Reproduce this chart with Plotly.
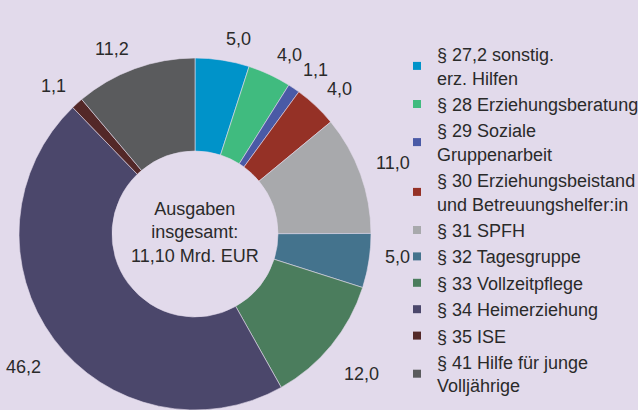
import math
import plotly.graph_objects as go

# ---- data ----
categories = [
    "§ 27,2 sonstig.<br>erz. Hilfen",
    "§ 28 Erziehungsberatung",
    "§ 29 Soziale<br>Gruppenarbeit",
    "§ 30 Erziehungsbeistand<br>und Betreuungshelfer:in",
    "§ 31 SPFH",
    "§ 32 Tagesgruppe",
    "§ 33 Vollzeitpflege",
    "§ 34 Heimerziehung",
    "§ 35 ISE",
    "§ 41 Hilfe für junge<br>Volljährige",
]
values = [5.0, 4.0, 1.1, 4.0, 11.0, 5.0, 12.0, 46.2, 1.1, 11.2]
colors = ["#0093c9", "#40bb7f", "#4a5aa6", "#953126", "#a8a9ac",
          "#44738d", "#4b7d5d", "#4b476b", "#532828", "#5a5b5d"]
center_text = "Ausgaben<br>insgesamt:<br>11,10 Mrd. EUR"

# ---- layout constants ----
W, H = 638, 410
BG = "#e2daeb"
TXT = "#2a2a2a"
FONT = "Liberation Sans, Arial, sans-serif"
FS = 18
cx, cy, R = 195, 234, 176          # pixel centre / radius of donut
hole = 83 / R
LABEL_R = 191                      # radius where the label's nearest corner sits

fig = go.Figure()
fig.add_trace(go.Pie(
    labels=categories,
    values=values,
    marker=dict(colors=colors, line=dict(color=BG, width=0.6)),
    hole=hole,
    sort=False,
    direction="clockwise",
    textinfo="none",
    hoverinfo="skip",
    showlegend=False,
    domain=dict(x=[(cx - R) / W, (cx + R) / W], y=[0, 1 - (cy - R) / H]),
))

# legend via dummy square markers
for name, col in zip(categories, colors):
    fig.add_trace(go.Scatter(
        x=[None], y=[None], mode="markers", name=name,
        marker=dict(symbol="square", size=8, color=col),
        hoverinfo="skip",
    ))

# value labels outside the ring: nearest corner of the label on the mid-angle ray
total = sum(values)
cum = 0.0
for v in values:
    theta = math.radians((cum + v / 2) / total * 360)
    cum += v
    txt = f"{v:.1f}".replace(".", ",")
    s, c = math.sin(theta), math.cos(theta)
    px = cx + LABEL_R * s
    py = cy - LABEL_R * c
    xa = "left" if s >= 0 else "right"
    if c > -0.3:
        ya, ys = "bottom", -5
    else:
        ya, ys = "top", -8
    fig.add_annotation(x=px / W, y=1 - py / H, xref="paper", yref="paper",
                       text=txt, showarrow=False, xanchor=xa, yanchor=ya,
                       yshift=ys, borderpad=0,
                       font=dict(family=FONT, size=FS, color=TXT))

fig.add_annotation(x=cx / W, y=1 - (cy - 1) / H, xref="paper", yref="paper",
                   text=center_text, showarrow=False, xanchor="center", yanchor="middle",
                   align="center", font=dict(family=FONT, size=FS, color=TXT))

fig.update_layout(
    width=W, height=H,
    margin=dict(l=0, r=0, t=0, b=0, autoexpand=False),
    paper_bgcolor=BG, plot_bgcolor=BG,
    xaxis=dict(visible=False), yaxis=dict(visible=False),
    showlegend=True,
    legend=dict(x=397 / W, y=1 - 36 / H, xanchor="left", yanchor="top",
                font=dict(family=FONT, size=FS, color=TXT),
                bgcolor="rgba(0,0,0,0)", traceorder="normal",
                itemclick=False, itemdoubleclick=False),
    font=dict(family=FONT, color=TXT),
)

fig.write_html("out.html",
               config={"displayModeBar": False, "staticPlot": True},
               post_script="document.body.style.margin='0';document.body.style.background='%s';" % BG)
